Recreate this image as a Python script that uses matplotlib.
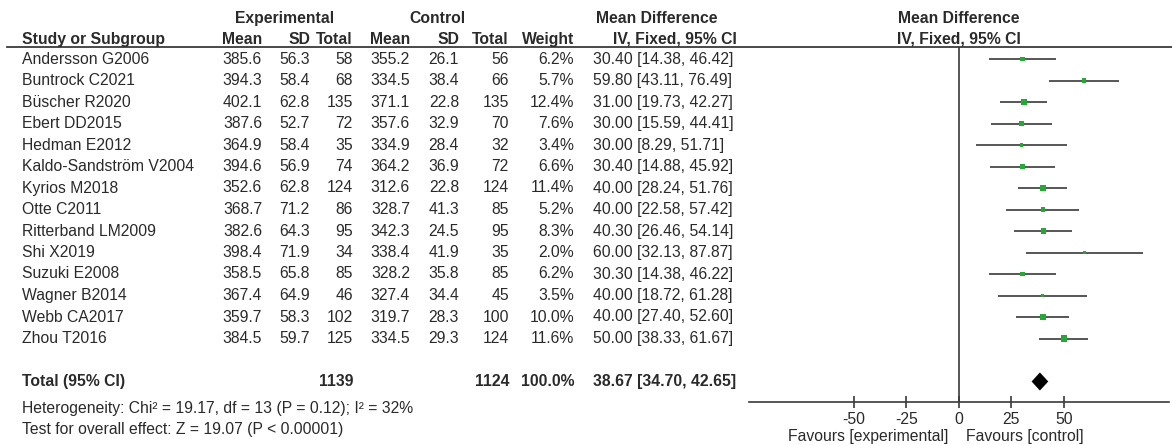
import matplotlib
matplotlib.use("Agg")
import matplotlib.pyplot as plt
import matplotlib.transforms as mtransforms

# ---- study data -------------------------------------------------------
studies = ["Andersson G2006", "Buntrock C2021", "Büscher R2020", "Ebert DD2015",
           "Hedman E2012", "Kaldo-Sandström V2004", "Kyrios M2018", "Otte C2011",
           "Ritterband LM2009", "Shi X2019", "Suzuki E2008", "Wagner B2014",
           "Webb CA2017", "Zhou T2016"]
exp_mean = [385.6, 394.3, 402.1, 387.6, 364.9, 394.6, 352.6, 368.7, 382.6, 398.4,
            358.5, 367.4, 359.7, 384.5]
exp_sd = [56.3, 58.4, 62.8, 52.7, 58.4, 56.9, 62.8, 71.2, 64.3, 71.9, 65.8, 64.9,
          58.3, 59.7]
exp_n = [58, 68, 135, 72, 35, 74, 124, 86, 95, 34, 85, 46, 102, 125]
ctl_mean = [355.2, 334.5, 371.1, 357.6, 334.9, 364.2, 312.6, 328.7, 342.3, 338.4,
            328.2, 327.4, 319.7, 334.5]
ctl_sd = [26.1, 38.4, 22.8, 32.9, 28.4, 36.9, 22.8, 41.3, 24.5, 41.9, 35.8, 34.4,
          28.3, 29.3]
ctl_n = [56, 66, 135, 70, 32, 72, 124, 85, 95, 35, 85, 45, 100, 124]
weight = [6.2, 5.7, 12.4, 7.6, 3.4, 6.6, 11.4, 5.2, 8.3, 2.0, 6.2, 3.5, 10.0, 11.6]
md = [30.40, 59.80, 31.00, 30.00, 30.00, 30.40, 40.00, 40.00, 40.30, 60.00, 30.30,
      40.00, 40.00, 50.00]
ci_lo = [14.38, 43.11, 19.73, 15.59, 8.29, 14.88, 28.24, 22.58, 26.46, 32.13, 14.38,
         18.72, 27.40, 38.33]
ci_hi = [46.42, 76.49, 42.27, 44.41, 51.71, 45.92, 51.76, 57.42, 54.14, 87.87, 46.22,
         61.28, 52.60, 61.67]

total_exp_n = 1139
total_ctl_n = 1124
total_weight = 100.0
total_md = 38.67
total_lo = 34.70
total_hi = 42.65

heterogeneity = "Heterogeneity: Chi² = 19.17, df = 13 (P = 0.12); I² = 32%"
overall_test = "Test for overall effect: Z = 19.07 (P < 0.00001)"
xticks = [-50, -25, 0, 25, 50]

# ---- layout -----------------------------------------------------------
W, H = 1172, 445
plt.rcParams["font.family"] = ["Liberation Sans", "DejaVu Sans"]
FS = 11.3
TXT = "#2a2a2a"
LINE = "#3a3a3a"
GREEN = "#26a836"

fig = plt.figure(figsize=(W / 100, H / 100), dpi=100)
fig.patch.set_facecolor("white")

top_px, bot_px = 47, 402
left_px, right_px = 748.7, 1168.7
ax = fig.add_axes([left_px / W, 1 - bot_px / H, (right_px - left_px) / W,
                   (bot_px - top_px) / H])
row0_px, row_step = 59.0, 21.5
y_top = (top_px - row0_px) / row_step
y_bot = (bot_px - row0_px) / row_step
ax.set_xlim(-100, 100)
ax.set_ylim(y_bot, y_top)

for s in ("left", "right", "top"):
    ax.spines[s].set_visible(False)
ax.spines["bottom"].set_color(LINE)
ax.spines["bottom"].set_linewidth(1.2)
ax.set_yticks([])
ax.set_xticks(xticks)
ax.set_xticklabels([str(t) for t in xticks])
ax.tick_params(axis="x", direction="inout", length=9, width=1.2, color=LINE,
               labelsize=FS, labelcolor=TXT, pad=3)
ax.axvline(0, color=LINE, lw=1.2, zorder=1)

rows = list(range(len(studies)))
total_row = 15

# confidence intervals and weighted squares
ax.hlines(rows, ci_lo, ci_hi, color=LINE, lw=1.2, zorder=2)
sizes = [(1.3 * w ** 0.5) ** 2 for w in weight]
ax.scatter(md, rows, s=sizes, marker="s", color=GREEN, linewidths=0, zorder=3)

# pooled estimate diamond
dh = 0.42
ax.fill([total_lo, total_md, total_hi, total_md],
        [total_row, total_row - dh, total_row, total_row + dh],
        color="black", lw=0, zorder=3)

# ---- table text ---------------------------------------------------------
tr = mtransforms.blended_transform_factory(fig.transFigure, ax.transData)


def put(xpx, y, s, ha="right", bold=False):
    ax.text(xpx / W, y, s, transform=tr, ha=ha, va="center", fontsize=FS,
            color=TXT, fontweight="bold" if bold else "normal", clip_on=False)


def ypx(p):
    return (p - row0_px) / row_step


# header rule across the table and the plot
ax.plot([7 / W, 1.0], [y_top, y_top], transform=tr, color=LINE, lw=1.3,
        clip_on=False, zorder=1)

c_name = 22
c_em, c_esd, c_en = 262, 310, 353
c_cm, c_csd, c_cn = 410, 459, 509
c_w = 574
c_ci = 593

h1 = ypx(18)
h2 = ypx(39)
put(285, h1, "Experimental", ha="center", bold=True)
put(437, h1, "Control", ha="center", bold=True)
put(657, h1, "Mean Difference", ha="center", bold=True)
put(958.7, h1, "Mean Difference", ha="center", bold=True)

put(c_name, h2, "Study or Subgroup", ha="left", bold=True)
for x, s in [(c_em, "Mean"), (c_esd, "SD"), (c_en, "Total"),
             (c_cm, "Mean"), (c_csd, "SD"), (c_cn, "Total"), (c_w, "Weight")]:
    put(x, h2, s, bold=True)
put(675, h2, "IV, Fixed, 95% CI", ha="center", bold=True)
put(958.7, h2, "IV, Fixed, 95% CI", ha="center", bold=True)

for i in rows:
    put(c_name, i, studies[i], ha="left")
    put(c_em, i, f"{exp_mean[i]:.1f}")
    put(c_esd, i, f"{exp_sd[i]:.1f}")
    put(c_en, i, f"{exp_n[i]}")
    put(c_cm, i, f"{ctl_mean[i]:.1f}")
    put(c_csd, i, f"{ctl_sd[i]:.1f}")
    put(c_cn, i, f"{ctl_n[i]}")
    put(c_w, i, f"{weight[i]:.1f}%")
    put(c_ci, i, f"{md[i]:.2f} [{ci_lo[i]:.2f}, {ci_hi[i]:.2f}]", ha="left")

put(c_name, total_row, "Total (95% CI)", ha="left", bold=True)
put(c_en, total_row, f"{total_exp_n}", bold=True)
put(c_cn, total_row, f"{total_ctl_n}", bold=True)
put(c_w, total_row, f"{total_weight:.1f}%", bold=True)
put(c_ci, total_row, f"{total_md:.2f} [{total_lo:.2f}, {total_hi:.2f}]", ha="left",
    bold=True)

put(c_name, ypx(409), heterogeneity, ha="left")
put(c_name, ypx(430), overall_test, ha="left")

# direction labels under the axis
put(948, ypx(437), "Favours [experimental]", ha="right")
put(966, ypx(437), "Favours [control]", ha="left")

fig.savefig("out.png", dpi=100, facecolor="white")
